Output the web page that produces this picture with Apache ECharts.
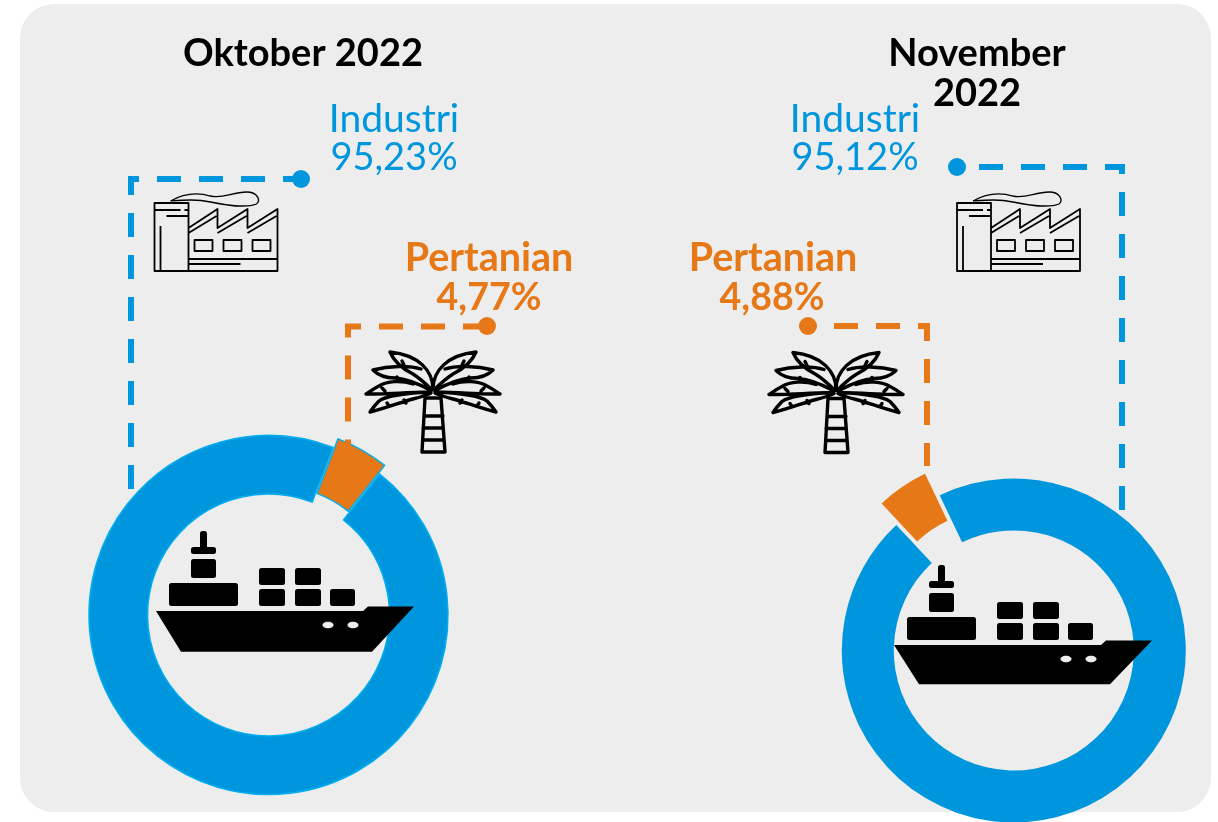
<!DOCTYPE html>
<html><head><meta charset="utf-8">
<style>html,body{margin:0;padding:0;background:#fff}#c{width:1218px;height:822px}</style>
<script src="https://cdn.jsdelivr.net/npm/echarts@6/dist/echarts.min.js"></script>
</head><body><div id="c"></div>
<script>
const periods = ['Oktober 2022', 'November\n2022'];
const categories = ['Pertanian', 'Industri'];
const pertanian = [4.77, 4.88];
const industri = [95.23, 95.12];

const BLUE = '#0096DE', ORANGE = '#E67817', INK = '#000', PANEL = '#EDEDED', FONT = 'Lato, Carlito, sans-serif';
const fmt = v => v.toFixed(2).replace('.', ',') + '%';

let pathId = 0;
function svgShape(d) {
  const name = 'svgIcon' + (pathId++);
  echarts.graphic.registerShape(name, echarts.graphic.extendPath(d, {}));
  return name;
}
const FRONDS = svgShape('M0 -2 C 0 -20 14 -36 43 -39 C 38 -27 26 -20 20 -17 C 12 -12 6 -6 1 -1 Z' +
    'M12 -22 C 24 -26 44 -25 60 -21 C 54 -15 46 -13 38 -13 C 26 -12 14 -7 3 -1' +
    'M20 -7 C 32 -11 46 -10 54 -5 C 60 -2 64 1 67 3 C 50 3 30 2 6 1' +
    'M4 1 C 24 2 46 4 54 10 C 58 14 61 18 63 21 C 46 17 32 11 20 8 C 12 6 6 4 2 2' +
    'M31 -30 L29 -26 M36 -14 L33 -11 M51 -3 L48 0 M29 9 L27 12 M46 12 L44 15');
const TRUNK = svgShape('M-8 7 L-11 61 L12 61 L8 7 M-9 25 L10 25 M-10 37 L10 37 M-10 49 L11 49 M-8 7 L8 7');
const PLANT = svgShape('M0 0 L0 -68 L34 -68 L34 0 Z M0 -61 L26 -61 M30 -61 L34 -61 M12 -55 L34 -55 M6 -45 L6 0 ' +
      'M34 -43 L63 -62 L63 -43 L93 -62 L93 -43 L123 -62 L123 0 L34 0 ' +
      'M34 -38 L62 -55 M63 -38 L92 -55 M93 -38 L122 -55 M34 -12 L123 -12 M34 -7 L86 -7');
const SMOKE = svgShape('M16 -70 C 30 -78 42 -79 56 -75 C 68 -72 78 -79 92 -79 C 104 -79 106 -70 102 -67 C 92 -63 70 -66 56 -69 C 42 -72 30 -71 16 -70');

function pie(center, radius, startAngle, offset, i, border) {
  const bs = border ? {borderColor: '#00AEEF', borderWidth: 1.5} : {borderWidth: 0};
  return {
    type: 'pie', center, radius, startAngle, clockwise: true, silent: true, animation: false,
    selectedMode: 'single', selectedOffset: offset, label: {show: false}, labelLine: {show: false},
    z: 2,
    data: [
      {name: categories[0], value: pertanian[i], selected: true,
       itemStyle: {color: ORANGE, ...bs}, select: {itemStyle: {color: ORANGE, ...bs}}},
      {name: categories[1], value: industri[i], itemStyle: {color: BLUE, ...bs}}
    ]
  };
}

const line = (pts, color, off) => ({
  type: 'polyline', z: 5, shape: {points: pts},
  style: {stroke: color, lineWidth: 6, fill: null, lineDash: [24, 18], lineDashOffset: off}
});
const dot = (x, y, color) => ({type: 'circle', z: 6, shape: {cx: x, cy: y, r: 9}, style: {fill: color}});
const txt = (x, y, t, color, size, bold) => ({
  type: 'text', z: 7, x, y,
  style: {text: t, fill: color, font: (bold ? 'bold ' : '') + size + 'px ' + FONT, align: 'center', verticalAlign: 'middle', lineHeight: 40}
});

function ship(x, y, h) {
  const box = (a, b, w, hh) => ({type: 'rect', z: 8, shape: {x: a, y: b, width: w, height: hh, r: 2.5}, style: {fill: INK}});
  return {type: 'group', x, y, children: [
    {type: 'polygon', z: 8, shape: {points: [[0,0],[207,0],[212,-4.5],[258,-4.5],[216,h],[25,h]]}, style: {fill: INK}},
    {type: 'ellipse', z: 9, shape: {cx: 172, cy: 14, rx: 5.5, ry: 3.2}, style: {fill: PANEL}},
    {type: 'ellipse', z: 9, shape: {cx: 197, cy: 14, rx: 5.5, ry: 3.2}, style: {fill: PANEL}},
    box(13,-28,69,23), box(35,-52,25,19), box(35,-64,25,7), box(44,-80,7,18),
    box(103,-43,26,17), box(139,-43,26,17), box(103,-22,26,17), box(139,-22,26,17), box(174,-22,25,17)
  ]};
}

function palm(x, y) {
  const s = {stroke: INK, lineWidth: 3.4, fill: null, lineJoin: 'round', lineCap: 'round'};
  return {type: 'group', x, y, children: [
    {type: FRONDS, z: 8, style: s},
    {type: FRONDS, z: 8, scaleX: -1, style: s},
    {type: TRUNK, z: 8, style: s}
  ]};
}

function factory(x, y) {
  const s = {stroke: INK, lineWidth: 1.8, fill: null, lineJoin: 'round'};
  const win = (a) => ({type: 'rect', z: 8, shape: {x: a, y: -31, width: 18, height: 11}, style: s});
  return {type: 'group', x, y, children: [
    {type: PLANT, z: 8, style: s},
    win(40), win(69), win(98),
    {type: SMOKE, z: 8, style: {...s, lineWidth: 1.3}}
  ]};
}

const chart = echarts.init(document.getElementById('c'), null, {renderer: 'canvas'});
chart.setOption({
  animation: false,
  backgroundColor: '#fff',
  series: [
    pie([268.5, 615], [121, 179.5], 68.9, 10, 0, true),
    pie([1013.8, 650.5], [120, 172], 133.1, 26, 1, false)
  ],
  graphic: {elements: [
    {type: 'rect', z: -1, silent: true, shape: {x: 20, y: 4, width: 1191, height: 808, r: 34}, style: {fill: PANEL}},
    line([[301,179],[131,179],[131,489]], BLUE, 6),
    dot(301, 179, BLUE),
    line([[487,326.5],[348,326.5],[348,446]], ORANGE, 0),
    dot(487, 326, ORANGE),
    line([[957,167],[1122,167],[1122,511]], BLUE, 20),
    dot(957, 167, BLUE),
    line([[808,326],[927,326],[927,466]], ORANGE, 16),
    dot(808, 326, ORANGE),
    txt(303, 53.5, periods[0], INK, 38, true),
    txt(977, 73.5, periods[1], INK, 38, true),
    txt(394, 119.5, categories[1], BLUE, 39, false),
    txt(394, 158, fmt(industri[0]), BLUE, 38, false),
    txt(855, 119.5, categories[1], BLUE, 39, false),
    txt(855, 158, fmt(industri[1]), BLUE, 38, false),
    txt(489, 258, categories[0], ORANGE, 39.5, true),
    txt(489, 298, fmt(pertanian[0]), ORANGE, 37.5, true),
    txt(773, 258, categories[0], ORANGE, 39.5, true),
    txt(772, 298, fmt(pertanian[1]), ORANGE, 37.5, true),
    factory(154.5, 271),
    factory(957, 271),
    palm(433, 391),
    palm(836, 391.5),
    ship(156, 611, 40.7),
    ship(894, 645, 39.3)
  ]}
});
</script></body></html>
